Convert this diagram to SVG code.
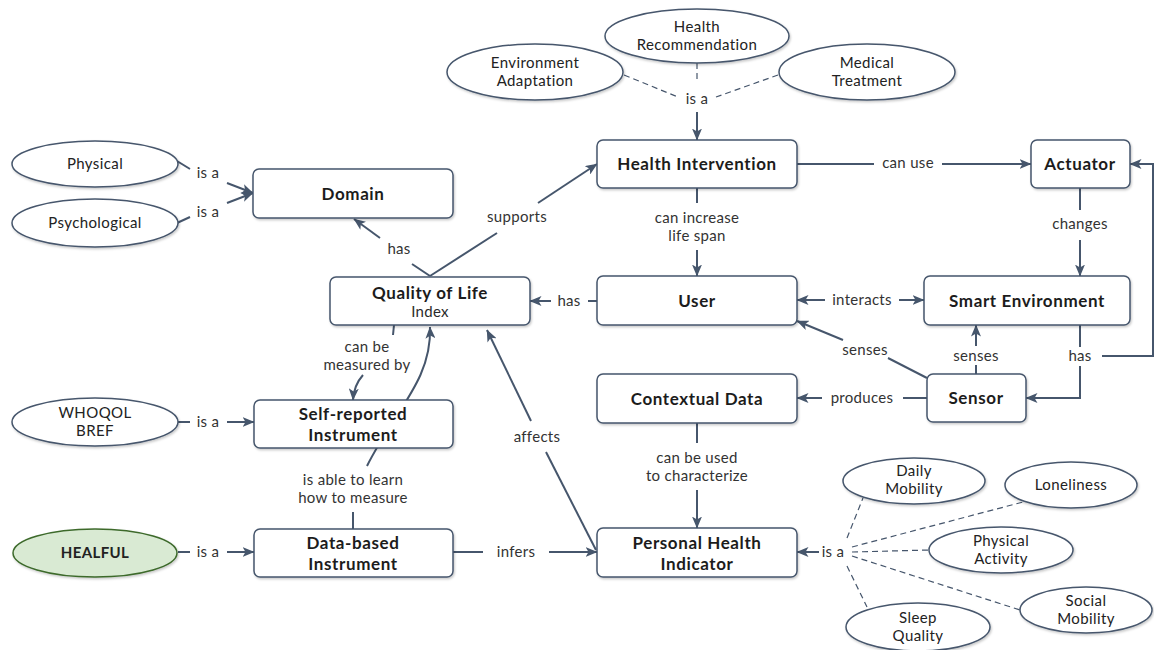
<svg xmlns="http://www.w3.org/2000/svg" width="1154" height="650" viewBox="0 0 1154 650">
  <style>
    .box { fill: #ffffff; stroke: #46566c; stroke-width: 1.5; filter: url(#shadow); }
    .ell { fill: #ffffff; stroke: #46566c; stroke-width: 1.5; filter: url(#shadow); }
    .ell-green { fill: #d9ead3; stroke: #3d6a2c; stroke-width: 1.5; filter: url(#shadow); }
    .title { font-family: Lato, "Liberation Sans", sans-serif; font-size: 17px; font-weight: bold; fill: #1c1c1c; text-anchor: middle; letter-spacing: 0.6px; }
    .sub { font-family: Lato, "Liberation Sans", sans-serif; font-size: 15px; fill: #2a2a2a; text-anchor: middle; letter-spacing: 0.3px; }
    .etext { font-family: Lato, "Liberation Sans", sans-serif; font-size: 15px; fill: #222222; text-anchor: middle; letter-spacing: 0.4px; }
    .lbl { font-family: Lato, "Liberation Sans", sans-serif; font-size: 15px; fill: #333333; text-anchor: middle; letter-spacing: 0.3px; }
    .ln { fill: none; stroke: #46566c; stroke-width: 2; }
    .dash { fill: none; stroke: #46566c; stroke-width: 1.2; stroke-dasharray: 6 4; }
    .arr { marker-end: url(#head); }
  </style>
  <defs>
    <marker id="head" viewBox="0 0 12 10" refX="11.5" refY="5" markerWidth="12" markerHeight="10" markerUnits="userSpaceOnUse" orient="auto">
      <path d="M0,0 L12,5 L0,10 L3,5 z" fill="#46566c"/>
    </marker>
    <filter id="shadow" x="-10%" y="-10%" width="125%" height="140%">
      <feDropShadow dx="1" dy="1.5" stdDeviation="1.2" flood-color="#000000" flood-opacity="0.22"/>
    </filter>
  </defs>

  <!-- connectors and link phrases -->
  <g id="connectors">
    <!-- intervention kinds: is a -->
    <path class="dash" d="M697,63 L697,83"/>
    <path class="dash" d="M624,75 L678,97"/>
    <path class="dash" d="M778,75 L716,97"/>
    <text class="lbl" x="697" y="104">is a</text>
    <path class="ln arr" d="M697,112 L697,140"/>

    <!-- can use -->
    <path class="ln" d="M797,164 L874,164"/>
    <text class="lbl" x="908" y="168">can use</text>
    <path class="ln arr" d="M942,164 L1031,164"/>

    <!-- changes -->
    <path class="ln" d="M1080,188 L1080,210"/>
    <text class="lbl" x="1080" y="229">changes</text>
    <path class="ln arr" d="M1080,240 L1080,276"/>

    <!-- can increase life span -->
    <path class="ln" d="M697,188 L697,203"/>
    <text class="lbl" x="697" y="223">can increase</text>
    <text class="lbl" x="697" y="241">life span</text>
    <path class="ln arr" d="M697,250 L697,276"/>

    <!-- interacts -->
    <path class="ln arr" d="M825,300 L797,300"/>
    <text class="lbl" x="862" y="305">interacts</text>
    <path class="ln arr" d="M899,300 L924,300"/>

    <!-- user has quality of life -->
    <path class="ln" d="M597,301 L588,301"/>
    <text class="lbl" x="569" y="306">has</text>
    <path class="ln arr" d="M551,301 L530,301"/>

    <!-- sensor senses user -->
    <path class="ln" d="M927,378 L888,358"/>
    <text class="lbl" x="865" y="355">senses</text>
    <path class="ln arr" d="M843,340 L797,321"/>

    <!-- sensor senses smart environment -->
    <path class="ln" d="M976,374 L976,365"/>
    <text class="lbl" x="976" y="361">senses</text>
    <path class="ln arr" d="M976,346 L976,325"/>

    <!-- smart environment has sensor / actuator -->
    <path class="ln" d="M1080,325 L1080,347"/>
    <text class="lbl" x="1080" y="361">has</text>
    <path class="ln arr" d="M1080,366 L1080,398 L1026,398"/>
    <path class="ln arr" d="M1102,356 L1153,356 L1153,164 L1130,164"/>

    <!-- produces -->
    <path class="ln" d="M927,398 L903,398"/>
    <text class="lbl" x="862" y="403">produces</text>
    <path class="ln arr" d="M822,398 L797,398"/>

    <!-- can be used to characterize -->
    <path class="ln" d="M697,423 L697,443"/>
    <text class="lbl" x="697" y="463">can be used</text>
    <text class="lbl" x="697" y="481">to characterize</text>
    <path class="ln arr" d="M697,490 L697,528"/>

    <!-- indicator kinds: is a -->
    <path class="dash" d="M847,538 L863,498"/>
    <path class="dash" d="M852,547 L1023,502"/>
    <path class="dash" d="M852,552 L930,550"/>
    <path class="dash" d="M852,556 L1020,610"/>
    <path class="dash" d="M847,566 L867,607"/>
    <text class="lbl" x="833" y="557">is a</text>
    <path class="ln arr" d="M819,552 L797,552"/>

    <!-- infers -->
    <path class="ln" d="M453,552 L483,552"/>
    <text class="lbl" x="516" y="557">infers</text>
    <path class="ln arr" d="M549,552 L597,552"/>

    <!-- affects -->
    <path class="ln" d="M596,550 L546,452"/>
    <text class="lbl" x="537" y="442">affects</text>
    <path class="ln arr" d="M531,421 L487,330"/>

    <!-- quality of life has domain -->
    <path class="ln" d="M430,276 L412,264"/>
    <text class="lbl" x="399" y="254">has</text>
    <path class="ln arr" d="M380,238 L354,219"/>

    <!-- supports -->
    <path class="ln" d="M430,276 L497,233"/>
    <text class="lbl" x="517" y="222">supports</text>
    <path class="ln arr" d="M538,203 L597,164"/>

    <!-- domain kinds -->
    <path class="ln" d="M177,161 L190,169"/>
    <text class="lbl" x="208" y="178">is a</text>
    <path class="ln arr" d="M227,183 L253,193"/>
    <path class="ln" d="M177,223 L190,217"/>
    <text class="lbl" x="208" y="217">is a</text>
    <path class="ln arr" d="M227,203 L253,193"/>

    <!-- can be measured by -->
    <path class="ln" d="M394,325 L393,335"/>
    <text class="lbl" x="367" y="352">can be</text>
    <text class="lbl" x="367" y="370">measured by</text>
    <path class="ln arr" d="M363,375 Q354,385 353,400"/>

    <!-- is able to learn how to measure -->
    <path class="ln" d="M353,529 L353,512"/>
    <text class="lbl" x="353" y="485">is able to learn</text>
    <text class="lbl" x="353" y="503">how to measure</text>
    <path class="ln arr" d="M367,466 C395,410 432,380 430,327"/>

    <!-- instrument kinds -->
    <path class="ln" d="M178,422 L190,422"/>
    <text class="lbl" x="208" y="427">is a</text>
    <path class="ln arr" d="M227,422 L254,422"/>
    <path class="ln" d="M178,552 L190,552"/>
    <text class="lbl" x="208" y="557">is a</text>
    <path class="ln arr" d="M227,552 L254,552"/>
  </g>

  <!-- concepts -->
  <g id="health-recommendation">
    <ellipse class="ell" cx="697" cy="36" rx="92" ry="27"/>
    <text class="etext" x="697" y="32">Health</text>
    <text class="etext" x="697" y="50">Recommendation</text>
  </g>
  <g id="environment-adaptation">
    <ellipse class="ell" cx="535" cy="72" rx="88" ry="28"/>
    <text class="etext" x="535" y="68">Environment</text>
    <text class="etext" x="535" y="86">Adaptation</text>
  </g>
  <g id="medical-treatment">
    <ellipse class="ell" cx="867" cy="72" rx="88" ry="28"/>
    <text class="etext" x="867" y="68">Medical</text>
    <text class="etext" x="867" y="86">Treatment</text>
  </g>

  <g id="health-intervention">
    <rect class="box" x="597" y="140" width="200" height="48" rx="6"/>
    <text class="title" x="697" y="170">Health Intervention</text>
  </g>
  <g id="actuator">
    <rect class="box" x="1031" y="140" width="99" height="48" rx="6"/>
    <text class="title" x="1080" y="170">Actuator</text>
  </g>
  <g id="user">
    <rect class="box" x="597" y="276" width="200" height="49" rx="6"/>
    <text class="title" x="697" y="307">User</text>
  </g>
  <g id="smart-environment">
    <rect class="box" x="924" y="276" width="206" height="49" rx="6"/>
    <text class="title" x="1027" y="307">Smart Environment</text>
  </g>
  <g id="sensor">
    <rect class="box" x="927" y="374" width="99" height="48" rx="6"/>
    <text class="title" x="976" y="404">Sensor</text>
  </g>
  <g id="contextual-data">
    <rect class="box" x="597" y="374" width="200" height="49" rx="6"/>
    <text class="title" x="697" y="405">Contextual Data</text>
  </g>
  <g id="personal-health-indicator">
    <rect class="box" x="597" y="528" width="200" height="49" rx="6"/>
    <text class="title" x="697" y="549">Personal Health</text>
    <text class="title" x="697" y="570">Indicator</text>
  </g>

  <g id="domain">
    <rect class="box" x="253" y="169" width="200" height="49" rx="6"/>
    <text class="title" x="353" y="200">Domain</text>
  </g>
  <g id="physical">
    <ellipse class="ell" cx="95" cy="164" rx="83" ry="23"/>
    <text class="etext" x="95" y="169">Physical</text>
  </g>
  <g id="psychological">
    <ellipse class="ell" cx="95" cy="223" rx="83" ry="24"/>
    <text class="etext" x="95" y="228">Psychological</text>
  </g>

  <g id="quality-of-life">
    <rect class="box" x="330" y="277" width="200" height="48" rx="6"/>
    <text class="title" x="430" y="299">Quality of Life</text>
    <text class="sub" x="430" y="317">Index</text>
  </g>
  <g id="self-reported-instrument">
    <rect class="box" x="254" y="400" width="199" height="48" rx="6"/>
    <text class="title" x="353" y="420">Self-reported</text>
    <text class="title" x="353" y="441">Instrument</text>
  </g>
  <g id="data-based-instrument">
    <rect class="box" x="254" y="529" width="199" height="48" rx="6"/>
    <text class="title" x="353" y="549">Data-based</text>
    <text class="title" x="353" y="570">Instrument</text>
  </g>
  <g id="whoqol-bref">
    <ellipse class="ell" cx="95" cy="422" rx="83" ry="24"/>
    <text class="etext" x="95" y="418">WHOQOL</text>
    <text class="etext" x="95" y="436">BREF</text>
  </g>
  <g id="healful">
    <ellipse class="ell-green" cx="95" cy="553" rx="82" ry="24"/>
    <text class="etext" x="95" y="558" font-weight="bold">HEALFUL</text>
  </g>

  <g id="daily-mobility">
    <ellipse class="ell" cx="914" cy="481" rx="71" ry="23"/>
    <text class="etext" x="914" y="476">Daily</text>
    <text class="etext" x="914" y="494">Mobility</text>
  </g>
  <g id="loneliness">
    <ellipse class="ell" cx="1071" cy="485" rx="66" ry="23"/>
    <text class="etext" x="1071" y="490">Loneliness</text>
  </g>
  <g id="physical-activity">
    <ellipse class="ell" cx="1001" cy="550" rx="72" ry="23"/>
    <text class="etext" x="1001" y="546">Physical</text>
    <text class="etext" x="1001" y="564">Activity</text>
  </g>
  <g id="social-mobility">
    <ellipse class="ell" cx="1086" cy="610" rx="66" ry="23"/>
    <text class="etext" x="1086" y="606">Social</text>
    <text class="etext" x="1086" y="624">Mobility</text>
  </g>
  <g id="sleep-quality">
    <ellipse class="ell" cx="918" cy="627" rx="72" ry="24"/>
    <text class="etext" x="918" y="623">Sleep</text>
    <text class="etext" x="918" y="641">Quality</text>
  </g>
</svg>
